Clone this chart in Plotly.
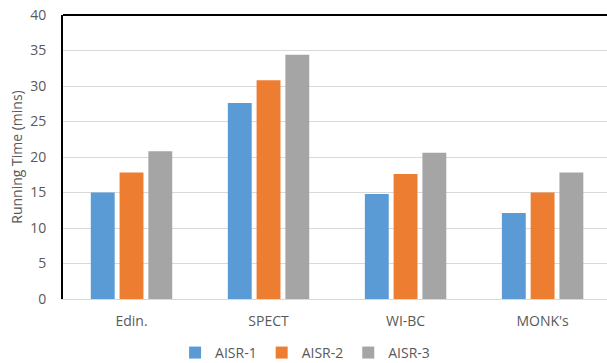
import plotly.graph_objects as go

categories = ["Edin.", "SPECT", "WI-BC", "MONK's"]
aisr1 = [15.0, 27.6, 14.8, 12.1]
aisr2 = [17.8, 30.8, 17.6, 15.0]
aisr3 = [20.8, 34.4, 20.6, 17.8]
series_names = ["AISR-1", "AISR-2", "AISR-3"]
colors = ["#5B9BD5", "#ED7D31", "#A5A5A5"]

font_family = "Open Sans, Liberation Sans, sans-serif"
text_color = "#595959"

fig = go.Figure()
for name, vals, col in zip(series_names, [aisr1, aisr2, aisr3], colors):
    fig.add_trace(go.Bar(x=categories, y=vals, name=name, marker_color=col,
                         marker_line_width=0))

fig.update_layout(
    width=607, height=363,
    margin=dict(l=63, r=0, t=15, b=64, autoexpand=False),
    paper_bgcolor="white", plot_bgcolor="white",
    barmode="group", bargap=0.37, bargroupgap=0.17,
    font=dict(family=font_family, size=13, color=text_color),
    legend=dict(orientation="h", x=0.445, xanchor="center", y=-0.19, yanchor="middle",
                font=dict(size=14, color=text_color), itemwidth=30,
                traceorder="normal"),
    showlegend=True,
)
fig.update_xaxes(
    range=[-0.5, 3.47],
    showline=True, linecolor="#d9d9d9", linewidth=1,
    ticks="outside", ticklen=9, tickcolor="rgba(0,0,0,0)",
    showgrid=False, tickfont=dict(size=14, color=text_color),
    automargin=False,
)
fig.update_yaxes(
    range=[0, 40], dtick=5,
    showline=True, linecolor="black", linewidth=2,
    showgrid=True, gridcolor="#d9d9d9", gridwidth=1,
    zeroline=False,
    ticks="outside", ticklen=12, tickcolor="rgba(0,0,0,0)",
    tickfont=dict(size=14, color=text_color),
    title=dict(text="Running Time (mins)", font=dict(size=14, color=text_color), standoff=4),
    automargin=False,
)
# frame line along the top of the plot area
fig.add_shape(type="line", xref="paper", yref="paper", x0=0, x1=1, y0=1, y1=1,
              line=dict(color="black", width=2))

fig.write_html("out.html")
